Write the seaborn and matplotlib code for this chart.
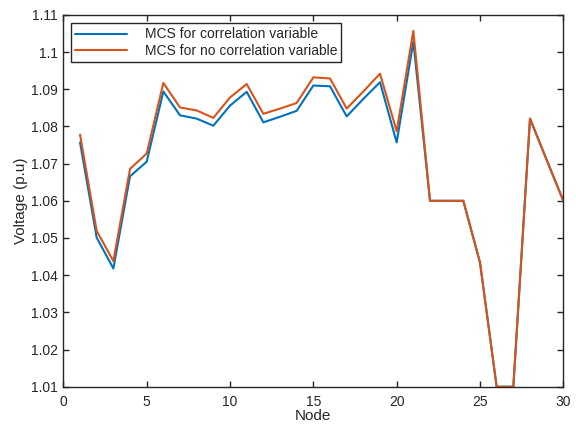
import pandas as pd
import matplotlib
matplotlib.use("Agg")
import matplotlib.pyplot as plt
import seaborn as sns

# ── Data ─────────────────────────────────────────────
nodes = list(range(1, 31))
corr = [1.0757, 1.0501, 1.0418, 1.0666, 1.0705, 1.0894, 1.0830, 1.0821, 1.0802, 1.0856,
        1.0893, 1.0811, 1.0826, 1.0842, 1.0910, 1.0908, 1.0827, 1.0874, 1.0919, 1.0757,
        1.1028, 1.0600, 1.0600, 1.0600, 1.0434, 1.0100, 1.0100, 1.0821, 1.0710, 1.0600]
no_corr = [1.0778, 1.0519, 1.0438, 1.0686, 1.0727, 1.0917, 1.0851, 1.0843, 1.0823, 1.0878,
           1.0914, 1.0834, 1.0848, 1.0863, 1.0932, 1.0929, 1.0848, 1.0894, 1.0942, 1.0787,
           1.1057, 1.0600, 1.0600, 1.0600, 1.0434, 1.0100, 1.0100, 1.0821, 1.0710, 1.0600]
labels = ['MCS for correlation variable', 'MCS for no correlation variable']

df = pd.DataFrame({
    'Node': nodes * 2,
    'Voltage': corr + no_corr,
    'Case': [labels[0]] * len(nodes) + [labels[1]] * len(nodes),
})

sns.set_theme(style="ticks")
plt.rcParams['font.family'] = ['Liberation Sans', 'DejaVu Sans']

fig = plt.figure(figsize=(5.76, 4.25), dpi=100)
ax = fig.add_axes([0.11, 0.09, 0.868, 0.875])

sns.lineplot(data=df, x='Node', y='Voltage', hue='Case', palette=['#0072BD', '#D95319'],
             linewidth=1.5, ax=ax)

ax.set_xlim(0, 30)
ax.set_ylim(1.01, 1.11)
ax.set_xticks(range(0, 31, 5))
ax.set_yticks([1.01 + 0.01 * i for i in range(11)])
ax.set_yticklabels(['1.01', '1.02', '1.03', '1.04', '1.05', '1.06', '1.07', '1.08', '1.09', '1.1', '1.11'])
ax.tick_params(direction='in', top=True, right=True, labelsize=10, length=4, width=1,
               colors='#262626', pad=4)
ax.tick_params(axis='x', pad=6)
for s in ax.spines.values():
    s.set_visible(True)
    s.set_color('#262626')
    s.set_linewidth(1)

ax.set_xlabel('Node', fontsize=11, labelpad=0, color='#262626')
ax.set_ylabel('Voltage (p.u)', fontsize=11, labelpad=2, color='#262626')

leg = ax.legend(loc='upper left', bbox_to_anchor=(0.01, 0.985), fontsize=10, handlelength=3.7,
                frameon=True, fancybox=False, borderaxespad=0.2, handletextpad=1.3,
                labelspacing=0.2, borderpad=0.3)
leg.get_frame().set_edgecolor('#262626')
leg.get_frame().set_linewidth(1)
leg.get_frame().set_alpha(1)

plt.savefig('out.png', dpi=100)
plt.close()
